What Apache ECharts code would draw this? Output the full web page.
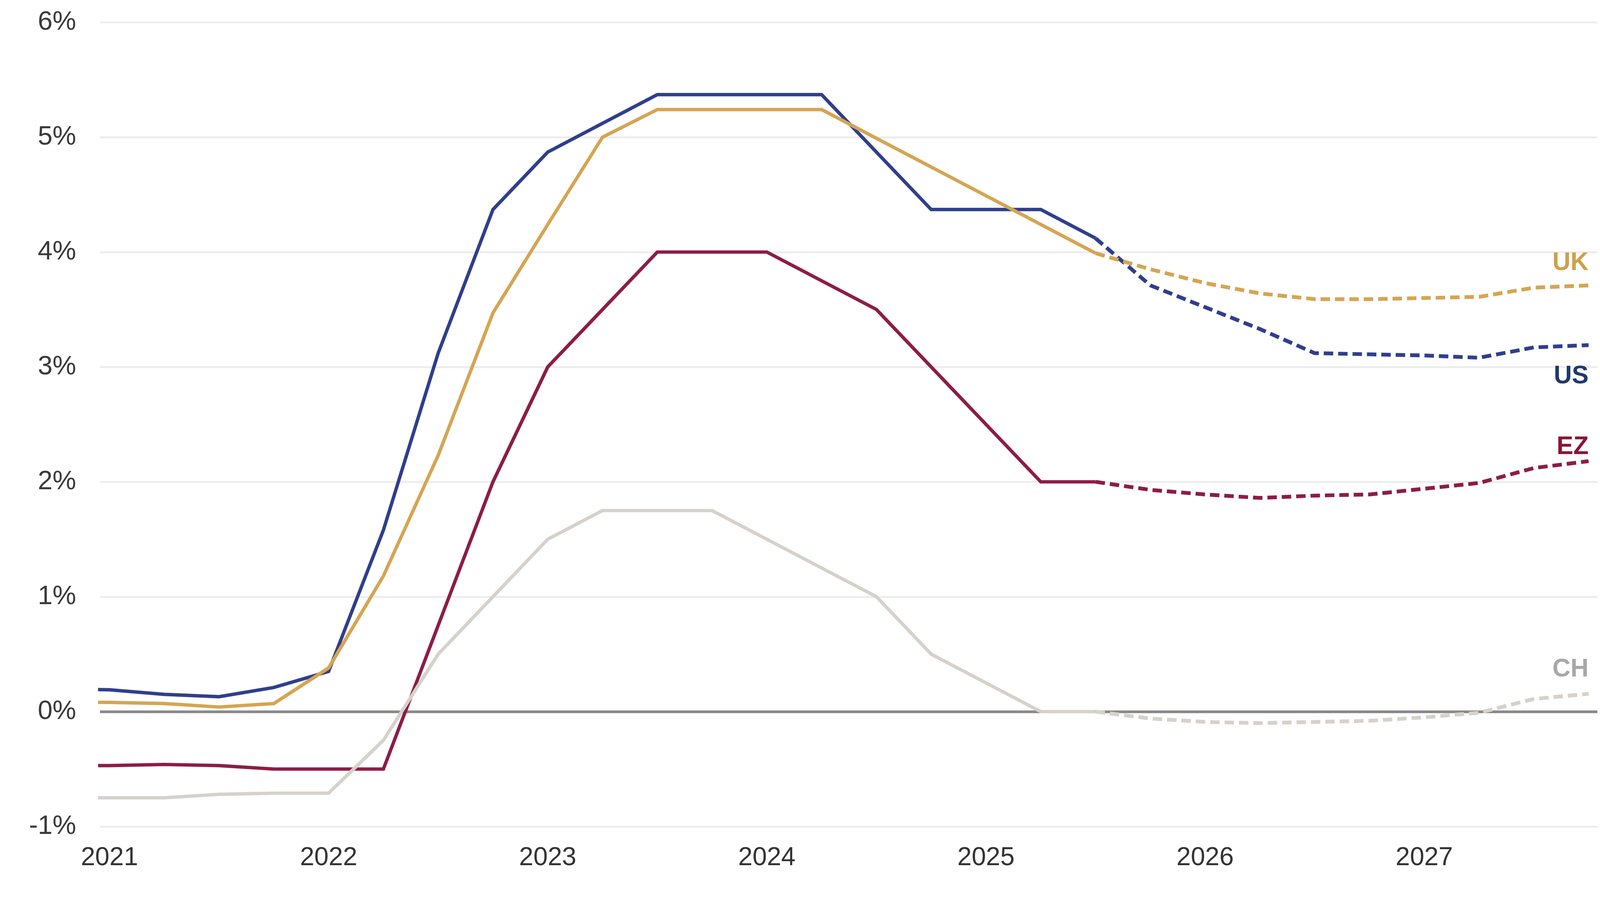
<!DOCTYPE html>
<html>
<head>
<meta charset="utf-8">
<script src="https://cdn.jsdelivr.net/npm/echarts@6/dist/echarts.min.js"></script>
<style>
html,body{margin:0;padding:0;background:#ffffff;overflow:hidden;width:100%;height:100%;}
#chart{width:100vw;height:100vh;}
</style>
</head>
<body>
<div id="chart"></div>
<script>
// Quarterly categories (2020 Q4 only provides the clipped stub at the left edge)
const quarters = [
  '2020 Q4',
  '2021 Q1','2021 Q2','2021 Q3','2021 Q4',
  '2022 Q1','2022 Q2','2022 Q3','2022 Q4',
  '2023 Q1','2023 Q2','2023 Q3','2023 Q4',
  '2024 Q1','2024 Q2','2024 Q3','2024 Q4',
  '2025 Q1','2025 Q2','2025 Q3','2025 Q4',
  '2026 Q1','2026 Q2','2026 Q3','2026 Q4',
  '2027 Q1','2027 Q2','2027 Q3','2027 Q4'
];
const yearTickQuarters = ['2021 Q1','2022 Q1','2023 Q1','2024 Q1','2025 Q1','2026 Q1','2027 Q1'];
const yearTickLabels = ['2021','2022','2023','2024','2025','2026','2027'];
const forecastStart = '2025 Q3';
const seriesNames = ['EZ','US','UK','CH'];

// Policy rates, %
const usRate = [0.20,
  0.19,0.15,0.13,0.21, 0.35,1.58,3.12,4.37, 4.87,5.12,5.37,5.37, 5.37,5.37,4.87,4.37,
  4.37,4.37,4.12,3.71, 3.52,3.33,3.12,3.11, 3.10,3.08,3.17,3.19];
const ukRate = [0.08,
  0.08,0.07,0.04,0.07, 0.38,1.18,2.23,3.47, 4.24,5.00,5.24,5.24, 5.24,5.24,4.99,4.74,
  4.49,4.24,3.99,3.85, 3.73,3.64,3.59,3.59, 3.60,3.61,3.69,3.71];
const ezRate = [-0.47,
  -0.47,-0.46,-0.47,-0.50, -0.50,-0.50,0.75,2.00, 3.00,3.50,4.00,4.00, 4.00,3.75,3.50,3.00,
  2.50,2.00,2.00,1.93, 1.89,1.86,1.88,1.89, 1.94,1.99,2.12,2.18];
const chRate = [-0.75,
  -0.75,-0.75,-0.72,-0.71, -0.71,-0.25,0.50,1.00, 1.50,1.75,1.75,1.75, 1.50,1.25,1.00,0.50,
  0.25,0.00,0.00,-0.06, -0.09,-0.10,-0.09,-0.08, -0.05,-0.01,0.11,0.155];

const yTicks = [-1, 0, 1, 2, 3, 4, 5, 6];

// layout is designed for a 4224 x 2321 canvas and scaled to the real viewport
const W = window.innerWidth || 4224;
const H = window.innerHeight || 2321;
const sx = W / 4224, sy = H / 2321, s = Math.min(sx, sy);

const FONT = '"Liberation Sans", Arial, Helvetica, sans-serif';
const styles = {
  US: {line: '#2F3F8C', label: '#1F3A68', dy: 80},
  UK: {line: '#D5A553', label: '#CFA04A', dy: -57},
  EZ: {line: '#8C1D46', label: '#8B1538', dy: -36},
  CH: {line: '#D6D1CA', label: '#A8A8A8', dy: -62}
};
const rates = {US: usRate, UK: ukRate, EZ: ezRate, CH: chRate};

const i0 = quarters.indexOf('2021 Q1');
const fIdx = quarters.indexOf(forecastStart);
const xOf = k => k - i0;

const series = [];
// helper series carrying the zero line
series.push({
  type: 'line', data: [], silent: true, z: 1,
  markLine: {
    silent: true, symbol: 'none', z: 1, animation: false,
    label: {show: false},
    lineStyle: {color: '#8A8A8A', width: 7 * s, type: 'solid'},
    data: [{yAxis: 0}]
  }
});

seriesNames.forEach(name => {
  const vals = rates[name];
  const st = styles[name];
  const actual = [], forecast = [];
  vals.forEach((v, k) => {
    if (k <= fIdx) actual.push([xOf(k), v]);
    if (k >= fIdx) forecast.push([xOf(k), v]);
  });
  series.push({
    name: name, type: 'line', data: actual, z: 2,
    showSymbol: false, symbol: 'none', clip: true,
    lineStyle: {color: st.line, width: 9 * s, type: 'solid', join: 'miter'}
  });
  series.push({
    name: name + ' forecast', type: 'line', data: forecast, z: 2,
    showSymbol: false, symbol: 'none', clip: false,
    lineStyle: {color: st.line, width: 10 * s, type: [25 * s, 13 * s], cap: 'butt'},
    endLabel: {
      show: true, formatter: name, color: st.label,
      fontFamily: FONT, fontSize: 66 * s, fontWeight: 'bold',
      align: 'right', verticalAlign: 'middle', distance: 0,
      offset: [0, st.dy * sy]
    }
  });
});

const labelXs = yearTickQuarters.map(q => xOf(quarters.indexOf(q)));

const chart = echarts.init(document.getElementById('chart'), null, {renderer: 'canvas', width: W, height: H});
chart.setOption({
  animation: false,
  backgroundColor: '#ffffff',
  grid: {left: 264 * sx, right: 7 * sx, top: 57 * sy, bottom: 206 * sy, containLabel: false},
  xAxis: {
    type: 'value', min: -0.173, max: 27.16,
    axisLine: {show: false}, axisTick: {show: false}, splitLine: {show: false},
    axisLabel: {
      customValues: labelXs,
      formatter: v => yearTickLabels[labelXs.indexOf(v)] || '',
      color: '#333333', fontFamily: FONT, fontSize: 68 * s, margin: 48 * sy
    }
  },
  yAxis: {
    type: 'value', min: yTicks[0], max: yTicks[yTicks.length - 1], interval: 1,
    axisLine: {show: false}, axisTick: {show: false},
    splitLine: {lineStyle: {color: '#EDEDED', width: 5 * s}},
    axisLabel: {
      formatter: '{value}%', color: '#3A3A3A', fontFamily: FONT, fontSize: 70 * s, margin: 63 * sx
    }
  },
  series: series
});
</script>
</body>
</html>
